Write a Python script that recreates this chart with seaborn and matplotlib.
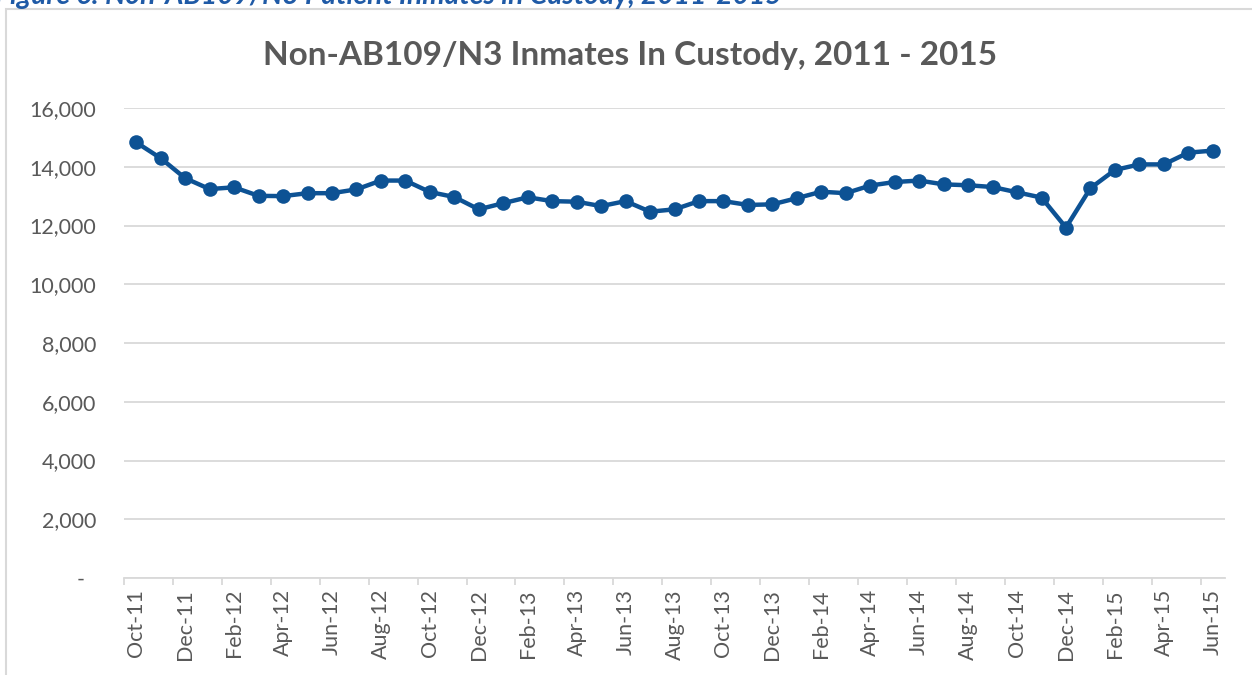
import matplotlib
matplotlib.use("Agg")
import matplotlib.pyplot as plt
import matplotlib.patches as mpatches
from matplotlib.ticker import FixedLocator, FuncFormatter
import numpy as np
import pandas as pd
import seaborn as sns

# Monthly counts of Non-AB109/N3 inmates in custody, Oct 2011 - Jun 2015
months = [
    "Oct-11", "Nov-11", "Dec-11",
    "Jan-12", "Feb-12", "Mar-12", "Apr-12", "May-12", "Jun-12",
    "Jul-12", "Aug-12", "Sep-12", "Oct-12", "Nov-12", "Dec-12",
    "Jan-13", "Feb-13", "Mar-13", "Apr-13", "May-13", "Jun-13",
    "Jul-13", "Aug-13", "Sep-13", "Oct-13", "Nov-13", "Dec-13",
    "Jan-14", "Feb-14", "Mar-14", "Apr-14", "May-14", "Jun-14",
    "Jul-14", "Aug-14", "Sep-14", "Oct-14", "Nov-14", "Dec-14",
    "Jan-15", "Feb-15", "Mar-15", "Apr-15", "May-15", "Jun-15",
]
inmates = [
    14830, 14290, 13610,
    13240, 13300, 13010, 13000, 13100, 13100,
    13230, 13530, 13530, 13140, 12970, 12550,
    12760, 12960, 12830, 12810, 12660, 12830,
    12470, 12550, 12830, 12830, 12700, 12720,
    12930, 13150, 13100, 13360, 13480, 13530,
    13400, 13370, 13310, 13130, 12950, 11930,
    13270, 13890, 14080, 14080, 14480, 14550,
]
y_ticks = [0, 2000, 4000, 6000, 8000, 10000, 12000, 14000, 16000]

title = "Non-AB109/N3 Inmates In Custody, 2011 - 2015"
caption = "Figure 6: Non-AB109/N3 Patient Inmates in Custody, 2011-2015"

line_color = "#0D5294"
text_gray = "#595959"
grid_gray = "#D9D9D9"

sns.set_theme(style="white")
plt.rcParams["font.family"] = ["Lato", "DejaVu Sans"]

df = pd.DataFrame({"pos": np.arange(len(months)), "month": months, "count": inmates})

fig = plt.figure(figsize=(12.52, 6.75), dpi=100)
ax = fig.add_axes([124 / 1252, 1 - 578 / 675, (1225 - 124) / 1252, (578 - 108) / 675])

sns.lineplot(data=df, x="pos", y="count", ax=ax, color=line_color,
             linewidth=3.2, marker="o", markersize=10.5, markeredgewidth=0,
             zorder=3)

n = len(months)
ax.set_xlim(-0.5, n - 0.5)
ax.set_ylim(0, 16000)


def accounting(v, _):
    # zero shown as a dash, the rest with thousands separators
    return "-  " if v == 0 else f"{int(v):,}"


ax.yaxis.set_major_locator(FixedLocator(y_ticks))
ax.yaxis.set_major_formatter(FuncFormatter(accounting))
ax.grid(axis="y", color=grid_gray, linewidth=1.3, zorder=0)
ax.grid(axis="x", visible=False)

# labels every other month, tick marks on category boundaries
label_pos = list(range(0, n, 2))
ax.set_xticks(label_pos)
ax.set_xticklabels([months[i] for i in label_pos], rotation=90)
ax.set_xticks([p - 0.5 for p in label_pos], minor=True)
ax.tick_params(axis="x", which="major", length=0, pad=8, labelsize=15.5, labelcolor=text_gray)
ax.tick_params(axis="x", which="minor", length=5, width=1.3, color=grid_gray, bottom=True)
ax.tick_params(axis="y", length=0, pad=20, labelsize=15.5, labelcolor=text_gray)

for side in ("left", "right", "top"):
    ax.spines[side].set_visible(False)
ax.spines["bottom"].set_color(grid_gray)
ax.spines["bottom"].set_linewidth(1.3)

ax.set_xlabel("")
ax.set_ylabel("")

fig.text((263 + 997) / 2 / 1252, 1 - 56 / 675, title, ha="center", va="center",
         fontsize=24, fontweight="bold", color=text_gray)

# chart frame
frame = mpatches.Rectangle((6 / 1252, -0.1), 1.2, 1 - 9 / 675 + 0.1,
                           transform=fig.transFigure, fill=False,
                           edgecolor=grid_gray, linewidth=1.5)
fig.add_artist(frame)

# document caption above the chart
fig.text(-0.004, 1 - 4 / 675, caption, ha="left", va="baseline",
         fontsize=20.3, fontweight="bold", fontstyle="italic", color="#1F5AA6")

fig.savefig("out.png", dpi=100, facecolor="white")
